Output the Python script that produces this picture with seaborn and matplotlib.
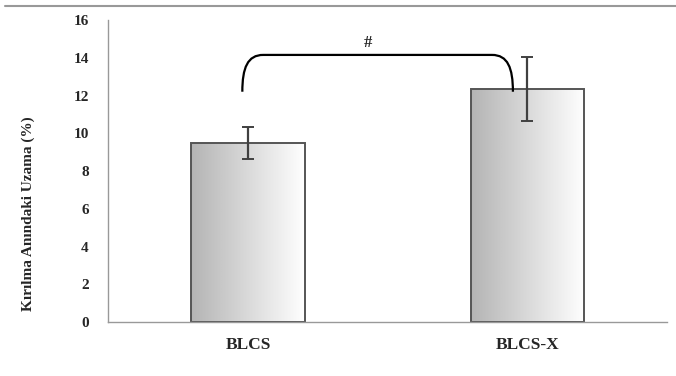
import matplotlib
matplotlib.use("Agg")
import matplotlib.pyplot as plt
import numpy as np
import pandas as pd
import seaborn as sns
from matplotlib.path import Path
from matplotlib.patches import PathPatch
from matplotlib.lines import Line2D

groups = ['BLCS', 'BLCS-X']
means = [9.5, 12.35]
errors = [0.85, 1.7]
yticks = [0, 2, 4, 6, 8, 10, 12, 14, 16]

df = pd.DataFrame({'group': groups, 'value': means})

sns.set_style('white')
plt.rcParams['font.family'] = ['Liberation Serif', 'DejaVu Serif']

fig = plt.figure(figsize=(6.76, 3.76), dpi=100)
ax = fig.add_axes([0.16, 0.1436, 0.827, 0.8032])

sns.barplot(data=df, x='group', y='value', color='white', width=0.405,
            errorbar=None, edgecolor='#555555', linewidth=1.4, ax=ax)

# gradient fill inside each bar (grey on the left -> white on the right)
grad = np.linspace(0, 1, 256).reshape(1, -1)
cmap = matplotlib.colors.LinearSegmentedColormap.from_list('g', ['#b4b4b4', '#ffffff'])
for p in ax.patches:
    x0, y0 = p.get_x(), p.get_y()
    w, h = p.get_width(), p.get_height()
    im = ax.imshow(grad, extent=[x0, x0 + w, y0, y0 + h], aspect='auto',
                   cmap=cmap, zorder=p.get_zorder() - 0.1, interpolation='bicubic')
    im.set_clip_path(p)
    p.set_facecolor('none')

ax.errorbar(range(len(groups)), means, yerr=errors, fmt='none', ecolor='#404040',
            elinewidth=1.6, capsize=4, capthick=1.4, zorder=5)

ax.set_xlim(-0.5, 1.5)
ax.set_ylim(0, 16)
ax.set_yticks(yticks)
ax.set_yticklabels([str(t) for t in yticks], fontsize=11, fontweight='bold')
ax.set_xticks(range(len(groups)))
ax.set_xticklabels(groups, fontsize=12.5, fontweight='bold')
ax.set_xticks([0.5], minor=True)
ax.tick_params(axis='x', which='major', length=0, pad=11)
ax.tick_params(axis='x', which='minor', length=3, color='#999999', direction='out')
ax.tick_params(axis='y', length=3, color='#999999', direction='out', pad=11)
ax.set_xlabel('')
ax.set_ylabel('Kırılma Anındaki Uzama (%)', fontsize=11, fontweight='bold')
ax.yaxis.set_label_coords(-0.131, 0.36)
for s in ['top', 'right']:
    ax.spines[s].set_visible(False)
for s in ['left', 'bottom']:
    ax.spines[s].set_color('#999999')
    ax.spines[s].set_linewidth(1.0)

# significance bracket
xl, xr, yb, yt, dx = -0.02, 0.948, 12.2, 14.15, 0.075
verts = [(xl, yb), (xl, yb + 0.65 * (yt - yb)), (xl + 0.25 * dx, yt), (xl + dx, yt),
         (xr - dx, yt),
         (xr - 0.25 * dx, yt), (xr, yb + 0.65 * (yt - yb)), (xr, yb)]
codes = [Path.MOVETO, Path.CURVE4, Path.CURVE4, Path.CURVE4, Path.LINETO,
         Path.CURVE4, Path.CURVE4, Path.CURVE4]
ax.add_patch(PathPatch(Path(verts, codes), fill=False, lw=1.6, color='black', zorder=6))
ax.text(0.43, 14.8, '#', ha='center', va='center', fontsize=12, fontweight='bold')

fig.add_artist(Line2D([0.007, 1.0], [0.984, 0.984], color='#999999', lw=1.5,
                      transform=fig.transFigure))

fig.savefig('out.png', dpi=100)
